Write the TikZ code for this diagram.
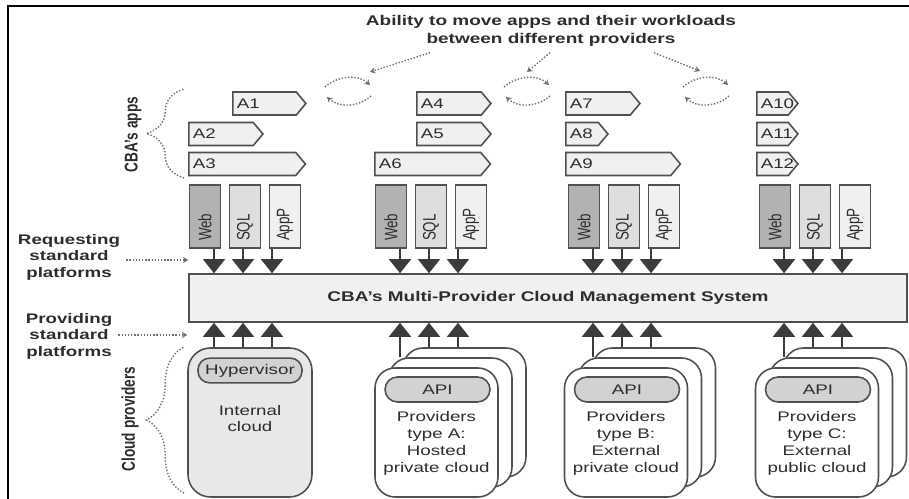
\documentclass[tikz,border=0pt]{standalone}
\usepackage{fontspec}
\setmainfont{Liberation Sans}[FakeStretch=1.35]
\newfontfamily\uprightfam{Liberation Sans}[FakeStretch=0.74]
\usepackage{tikz}
\usetikzlibrary{shapes.symbols, positioning, arrows.meta,
                decorations.pathreplacing, calc}
\definecolor{CBLine}{RGB}{80,80,80}
\definecolor{CBDark}{RGB}{60,60,60}
\definecolor{CBLight}{RGB}{240,240,240}
\definecolor{CBWeb}{RGB}{178,178,178}
\definecolor{CBSql}{RGB}{222,222,222}
\definecolor{CBApi}{RGB}{210,210,210}
\definecolor{CBCloud}{RGB}{232,232,232}
\definecolor{CBText}{RGB}{45,45,45}
\definecolor{CBDots}{RGB}{110,110,110}

\begin{document}
\begin{tikzpicture}[x=0.02cm, y=-0.02cm,
          app/.style={signal, signal to=east, signal pointer angle=100,
                      draw=CBLine, line width=0.9pt, fill=CBLight, anchor=west,
                      minimum height=0.46cm, inner xsep=0.08cm, inner ysep=0pt,
                      align=left, text=CBText, font=\fontsize{7.9}{8}\selectfont},
          plat/.style={rectangle, draw=CBLine, line width=0.9pt, rotate=90,
                       minimum height=0.62cm, text width=0.98cm, inner xsep=0.14cm,
                       align=left, text=CBText,
                       font=\uprightfam\fontsize{10.3}{11}\selectfont},
          card/.style={rectangle, rounded corners=0.4cm, draw=CBLine,
                       line width=0.9pt, fill=white, minimum width=2.46cm,
                       minimum height=2.58cm},
          pill/.style={rectangle, rounded corners=0.24cm, draw=CBLine,
                       line width=0.9pt, fill=CBApi, minimum height=0.48cm,
                       text=CBText, font=\fontsize{7.9}{9}\selectfont},
          body/.style={align=center, text=CBText,
                       font=\fontsize{7.9}{9.6}\selectfont},
          lbl/.style={align=center, text=CBText,
                      font=\fontsize{7.9}{9.4}\selectfont\bfseries},
          vlbl/.style={rotate=90, text=CBText,
                       font=\uprightfam\fontsize{10.5}{11}\selectfont\bfseries},
          arr/.style={-{Triangle[width=0.44cm, length=0.28cm]},
                      line width=0.8pt, CBDark},
          dots/.style={densely dotted, line width=0.8pt, CBDots},
          dotarr/.style={dots, -{Stealth[length=3pt, width=3.5pt]}},
          brc/.style={dots, decorate, decoration={brace, amplitude=0.75cm}}
        ]
        \useasboundingbox (0,0) rectangle (909,499);
        \draw[line width=1.1pt] (909,6) -- (8,6) -- (8,499);

        % Title
        \node[lbl, font=\fontsize{8}{10.2}\selectfont\bfseries] (title) at (551,31)
              {Ability to move apps and their workloads\\between different providers};

        % CBA's apps
        \foreach \n/\x/\y/\w in {1/232/103.5/1.11, 2/188/134/1.13, 3/188/164/1.98,
                                 4/416/103.5/1.13, 5/416/134/1.13, 6/374/164/1.96,
                                 7/565/103.5/1.13, 8/565/134/0.49, 9/565/164/1.94,
                                 10/756/103.5/0.47, 11/756/134/0.47, 12/756/164/0.47} {
          \node[app, text width=\w cm] (a\n) at (\x,\y) {A\n};
        }

        % Moving apps between providers
        \foreach \i/\cx in {1/348, 2/527, 3/706} {
          \coordinate (mv\i) at (\cx,91);
          \draw[dotarr] ([shift={(-23,-4)}]mv\i) .. controls +(12,-11) and +(-12,-11)
                .. ([shift={(22,-6)}]mv\i);
          \draw[dotarr] ([shift={(23,5)}]mv\i) .. controls +(-12,11) and +(12,11)
                .. ([shift={(-21,6)}]mv\i);
        }
        \draw[dotarr] (title.south -| 430,0) -- ([shift={(22,-19)}]mv1);
        \draw[dotarr] (title.south -| 550,0) -- ([shift={(0,-19)}]mv2);
        \draw[dotarr] (title.south -| 654,0) -- ([shift={(-6,-20)}]mv3);

        % Management system
        \node[rectangle, draw=CBLine, line width=0.9pt, fill=CBLight,
              minimum width=14.36cm, minimum height=0.96cm, text=CBText,
              font=\fontsize{8}{9}\selectfont\bfseries] (mgmt) at (548,298)
              {CBA’s Multi-Provider Cloud Management System};

        % Standard platforms
        \foreach \c/\x in {1/245, 2/431, 3/624, 4/815} {
          \node[plat, fill=CBWeb] (web\c) at (\x-40,216.5) {Web};
          \node[plat, fill=CBSql] (sql\c) at (\x,216.5) {SQL};
          \node[plat, fill=CBLight] (appp\c) at (\x+40,216.5) {AppP};
          \foreach \d in {-31,-2,27} {
            \draw[arr] (\x+\d,0 |- sql\c.west) -- (\x+\d,0 |- mgmt.north);
          }
        }

        % Internal cloud
        \node[rectangle, rounded corners=0.45cm, draw=CBLine, line width=0.9pt,
              fill=CBCloud, minimum width=2.48cm, minimum height=2.98cm]
              (int) at (250,422.5) {};
        \node[pill, minimum width=2.08cm, minimum height=0.46cm, rounded corners=0.23cm]
              (hyp) at (250,370.5) {Hypervisor};
        \node[body] (intlbl) at (250,418.5) {Internal\\cloud};
        \foreach \d in {-31,-2,27} {
          \draw[arr] (245+\d,0 |- int.north) -- (245+\d,0 |- mgmt.south);
        }

        % External providers
        \foreach \c/\x/\cx/\txt in {2/431/436.5/{Providers\\type A:\\Hosted\\private cloud},
                                    3/624/626/{Providers\\type B:\\External\\private cloud},
                                    4/815/817/{Providers\\type C:\\External\\public cloud}} {
          \node[card] (back\c) at (\cx+28,412.5) {};
          \node[card] (mid\c) at (\cx+14,422.5) {};
          \node[card] (front\c) at (\cx,432.5) {};
          \node[pill, minimum width=2.1cm, minimum height=0.5cm, rounded corners=0.25cm]
                (api\c) at (\cx+1,389.5) {API};
          \node[body] (prov\c) at (\cx,443.5) {\txt};
          \draw[arr] (\x-31,0 |- mid\c.north) -- (\x-31,0 |- mgmt.south);
          \draw[arr] (\x-2,0 |- back\c.north) -- (\x-2,0 |- mgmt.south);
          \draw[arr] (\x+27,0 |- back\c.north) -- (\x+27,0 |- mgmt.south);
        }

        % Left side labels
        \node[vlbl] (appslbl) at (133,134.5) {CBA’s apps};
        \draw[brc] (184,178) -- (184,89);
        \node[vlbl] (cloudlbl) at (130,419) {Cloud providers};
        \draw[brc] (184,493) -- (184,347);
        \node[lbl] (req) at (69,257) {Requesting\\standard\\platforms};
        \draw[dotarr] (req.east |- 0,260) -- (mgmt.west |- 0,260);
        \node[lbl] (prov) at (69,336) {Providing\\standard\\platforms};
        \draw[dotarr] (prov.east |- 0,335) -- (int.west |- 0,335);
      \end{tikzpicture}
\end{document}
